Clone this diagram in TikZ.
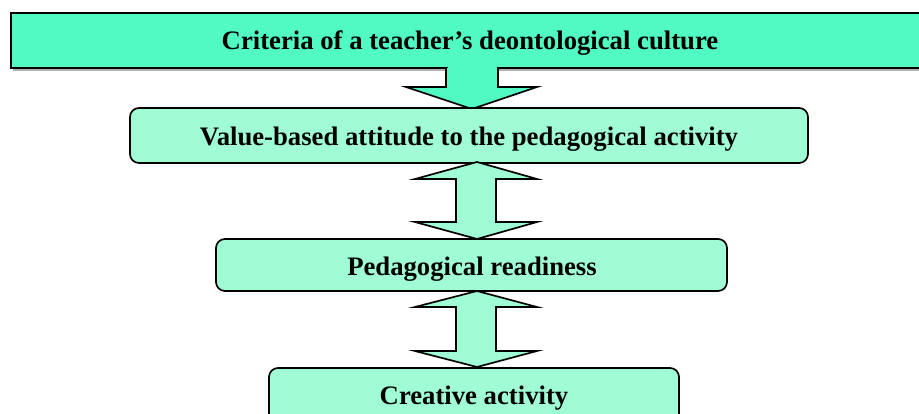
\documentclass[tikz,border=0pt]{standalone}
\usepackage{fontspec}
\setmainfont{Liberation Serif}
\definecolor{topfill}{RGB}{80,250,194}
\definecolor{boxfill}{RGB}{160,252,212}
\begin{document}
\begin{tikzpicture}[x=1pt,y=-1pt,
  outl/.style={draw=black,line width=1.7pt,line join=miter},
  lbl/.style={font=\fontsize{26.7}{30}\selectfont\bfseries,inner sep=0pt,anchor=base}]
\useasboundingbox (0,0) rectangle (919,414);
\clip (0,0) rectangle (919,414);
% top box with shadow
\fill[gray!60] (13,15) rectangle (935,71);
\draw[outl,fill=topfill] (11,13) rectangle (935,68);
\node[lbl] (t1) at (470,50) {Criteria of a teacher’s deontological culture};
% down arrow
\draw[outl,fill=topfill] (446,68) -- (446,87) -- (406,87) -- (472,109) -- (537,87) -- (498,87) -- (498,68);
\fill[topfill] (447.5,66) rectangle (496.5,69.5);
% box 2
\draw[outl,fill=boxfill,rounded corners=9pt] (130,108) rectangle (808,163);
\node[lbl] (t2) at (469,146) {Value-based attitude to the pedagogical activity};
% double arrow 1
\draw[outl,fill=boxfill] (477,162) -- (537,179) -- (496,179) -- (496,222) -- (537,222) -- (477,239) -- (415,222) -- (456,222) -- (456,179) -- (415,179) -- cycle;
% box 3
\draw[outl,fill=boxfill,rounded corners=9pt] (216,239) rectangle (727,291);
\node[lbl] (t3) at (472,276) {Pedagogical readiness};
% double arrow 2
\draw[outl,fill=boxfill] (477,291) -- (537,307) -- (496,307) -- (496,351) -- (537,351) -- (477,367) -- (415,351) -- (456,351) -- (456,307) -- (415,307) -- cycle;
% box 4
\draw[outl,fill=boxfill,rounded corners=9pt] (269,368) rectangle (679,440);
\node[lbl] (t4) at (474,404) {Creative activity};
\end{tikzpicture}
\end{document}
